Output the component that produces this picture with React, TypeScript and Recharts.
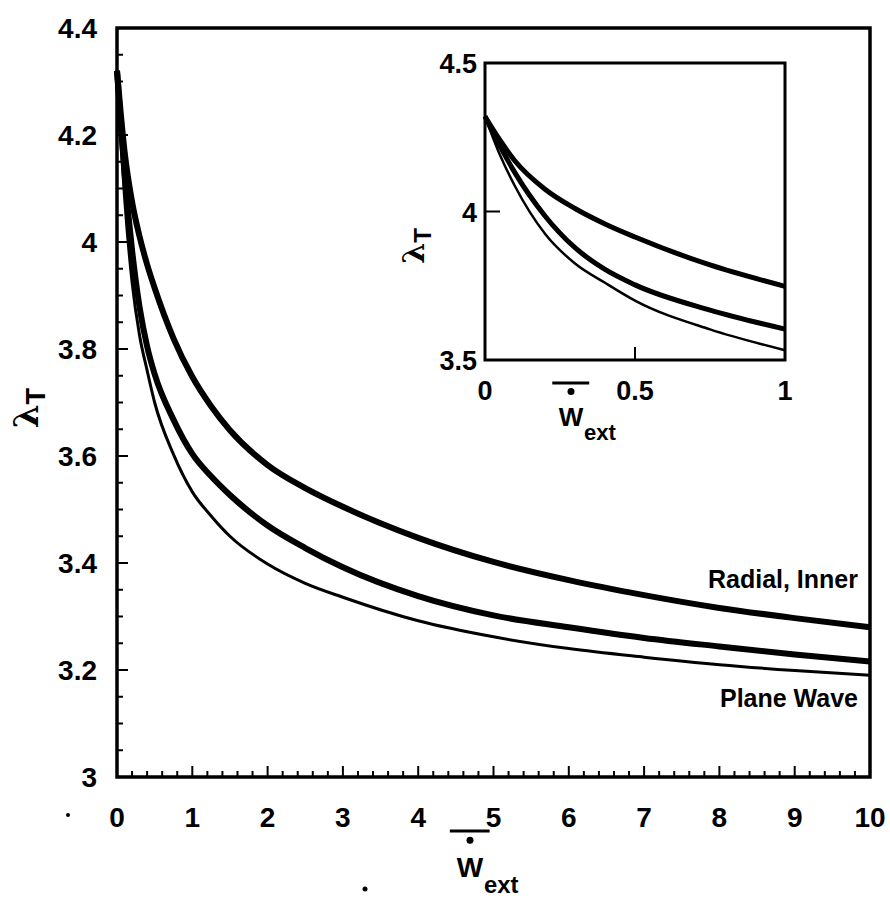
import { LineChart, Line, XAxis, YAxis, ReferenceArea } from 'recharts';

// lambda_T vs W_ext
const W_EXT = [0, 0.05, 0.1, 0.2, 0.3, 0.4, 0.5, 0.75, 1, 1.25, 1.5, 2, 2.5, 3, 4, 5, 6, 7, 8, 9, 10];
const RADIAL_INNER = [4.32, 4.24, 4.17, 4.075, 4.01, 3.958, 3.914, 3.82, 3.748, 3.693, 3.648, 3.583, 3.54, 3.505, 3.447, 3.402, 3.368, 3.34, 3.316, 3.297, 3.28];
const MIDDLE = [4.32, 4.22, 4.13, 3.985, 3.878, 3.805, 3.753, 3.668, 3.604, 3.562, 3.527, 3.47, 3.428, 3.392, 3.338, 3.302, 3.28, 3.26, 3.244, 3.229, 3.216];
const PLANE_WAVE = [4.32, 4.19, 4.085, 3.925, 3.825, 3.76, 3.7, 3.603, 3.533, 3.488, 3.45, 3.398, 3.362, 3.336, 3.292, 3.262, 3.24, 3.224, 3.21, 3.199, 3.19];

const MAIN_X_LABELS = [0, 1, 2, 3, 4, 5, 6, 7, 8, 9, 10];
const MAIN_Y_LABELS = [3, 3.2, 3.4, 3.6, 3.8, 4, 4.2, 4.4];
const INSET_X_LABELS = [0, 0.5, 1];
const INSET_Y_LABELS = [3.5, 4, 4.5];

const data = W_EXT.map((w, i) => ({
  w,
  radial: RADIAL_INNER[i],
  middle: MIDDLE[i],
  plane: PLANE_WAVE[i],
}));
const insetData = data.filter((d) => d.w <= 1);

// minor tick positions (0.2 on x, 0.05 on y)
const xMinor = Array.from({ length: 51 }, (_, i) => Math.round(i * 20) / 100);
const yMinor = Array.from({ length: 29 }, (_, i) => Math.round((3 + i * 0.05) * 100) / 100);

const FONT = '"Liberation Sans", Arial, sans-serif';
const isIn = (v: number, list: number[]) => list.some((t) => Math.abs(t - v) < 1e-6);

const MainXTick = ({ x, y, payload }: any) => {
  const major = isIn(payload.value, MAIN_X_LABELS);
  return (
    <g>
      <line x1={x} x2={x} y1={y} y2={y - (major ? 11 : 6)} stroke="#000" strokeWidth={2} />
      {major && (
        <text x={x} y={y + 50} textAnchor="middle" fontFamily={FONT} fontWeight={700} fontSize={28} fill="#000">
          {payload.value}
        </text>
      )}
    </g>
  );
};

const MainYTick = ({ x, y, payload }: any) => {
  const major = isIn(payload.value, MAIN_Y_LABELS);
  return (
    <g>
      <line x1={x} x2={x + (major ? 11 : 6)} y1={y} y2={y} stroke="#000" strokeWidth={2} />
      {major && (
        <text x={x - 20} y={y + 10} textAnchor="end" fontFamily={FONT} fontWeight={700} fontSize={28} fill="#000">
          {Math.round(payload.value * 10) / 10}
        </text>
      )}
    </g>
  );
};

const InsetXTick = ({ x, y, payload }: any) => {
  const inner = payload.value > 0 && payload.value < 1;
  return (
    <g>
      {inner && <line x1={x} x2={x} y1={y} y2={y - 13} stroke="#000" strokeWidth={2} />}
      <text x={x} y={y + 40} textAnchor="middle" fontFamily={FONT} fontWeight={700} fontSize={27} fill="#000">
        {payload.value}
      </text>
    </g>
  );
};

const InsetYTick = ({ x, y, payload }: any) => {
  const inner = payload.value > 3.5 && payload.value < 4.5;
  return (
    <g>
      {inner && <line x1={x} x2={x + 15} y1={y} y2={y} stroke="#000" strokeWidth={2} />}
      <text x={x - 8} y={y + 10} textAnchor="end" fontFamily={FONT} fontWeight={700} fontSize={27} fill="#000">
        {payload.value}
      </text>
    </g>
  );
};

const WextLabel = ({ x, y, size }: { x: number; y: number; size: number }) => (
  <g fontFamily={FONT} fontWeight={700} fill="#000">
    <line x1={x - size * 0.72} x2={x + size * 0.7} y1={y} y2={y} stroke="#000" strokeWidth={3} />
    <circle cx={x} cy={y + size * 0.33} r={3.5} />
    <text x={x} y={y + size * 1.65} textAnchor="middle" fontSize={size}>W</text>
    <text x={x + size * 0.5} y={y + size * 2.2} fontSize={size * 0.85}>ext</text>
  </g>
);

const LambdaLabel = ({ x, y, size }: { x: number; y: number; size: number }) => (
  <text
    transform={`translate(${x},${y}) rotate(-90)`}
    textAnchor="middle"
    fontFamily='"DejaVu Serif", serif'
    fontWeight={700}
    fontSize={size}
    fill="#000"
  >
    λ
    <tspan fontFamily={FONT} fontSize={size * 0.8} dy={size * 0.22}>T</tspan>
  </text>
);

export default function App() {
  return (
    <div style={{ position: 'absolute', left: 0, top: 0, width: 890, height: 898, background: '#fff' }}>
      <div style={{ position: 'absolute', left: 0, top: 0 }}>
        <LineChart width={890} height={898} data={data} margin={{ top: 28, right: 20, bottom: 61, left: 17 }}>
          <XAxis
            dataKey="w"
            type="number"
            domain={[0, 10]}
            ticks={xMinor}
            interval={0}
            axisLine={false}
            tickLine={false}
            tickSize={0}
            tickMargin={0}
            height={60}
            tick={<MainXTick />}
          />
          <YAxis
            type="number"
            domain={[3, 4.4]}
            ticks={yMinor}
            interval={0}
            axisLine={false}
            tickLine={false}
            tickSize={0}
            tickMargin={0}
            width={100}
            tick={<MainYTick />}
          />
          <ReferenceArea x1={0} x2={10} y1={3} y2={4.4} fill="none" stroke="#000" strokeWidth={3.5} ifOverflow="visible" />
          <Line dataKey="radial" type="monotone" stroke="#000" strokeWidth={6} dot={false} isAnimationActive={false} />
          <Line dataKey="middle" type="monotone" stroke="#000" strokeWidth={6} dot={false} isAnimationActive={false} />
          <Line dataKey="plane" type="monotone" stroke="#000" strokeWidth={3} dot={false} isAnimationActive={false} />
        </LineChart>
      </div>

      <div style={{ position: 'absolute', left: 400, top: 40 }}>
        <LineChart width={400} height={380} data={insetData} margin={{ top: 23, right: 15, bottom: 15, left: 25 }}>
          <XAxis
            dataKey="w"
            type="number"
            domain={[0, 1]}
            ticks={INSET_X_LABELS}
            interval={0}
            axisLine={false}
            tickLine={false}
            tickSize={0}
            tickMargin={0}
            height={45}
            tick={<InsetXTick />}
          />
          <YAxis
            type="number"
            domain={[3.5, 4.5]}
            ticks={INSET_Y_LABELS}
            interval={0}
            axisLine={false}
            tickLine={false}
            tickSize={0}
            tickMargin={0}
            width={60}
            tick={<InsetYTick />}
          />
          <ReferenceArea x1={0} x2={1} y1={3.5} y2={4.5} fill="none" stroke="#000" strokeWidth={3} ifOverflow="visible" />
          <Line dataKey="radial" type="monotone" stroke="#000" strokeWidth={5} dot={false} isAnimationActive={false} />
          <Line dataKey="middle" type="monotone" stroke="#000" strokeWidth={5} dot={false} isAnimationActive={false} />
          <Line dataKey="plane" type="monotone" stroke="#000" strokeWidth={2.5} dot={false} isAnimationActive={false} />
        </LineChart>
      </div>

      <svg width={890} height={898} style={{ position: 'absolute', left: 0, top: 0, pointerEvents: 'none' }}>
        <LambdaLabel x={38} y={408} size={34} />
        <LambdaLabel x={424} y={246} size={30} />
        <WextLabel x={470} y={831} size={28} />
        <WextLabel x={571} y={383} size={26} />
        <text x={858} y={588} textAnchor="end" fontFamily={FONT} fontWeight={700} fontSize={25} fill="#000">
          Radial, Inner
        </text>
        <text x={858} y={707} textAnchor="end" fontFamily={FONT} fontWeight={700} fontSize={25} fill="#000">
          Plane Wave
        </text>
        <circle cx={68} cy={815} r={2} fill="#000" />
        <circle cx={365} cy={889} r={2.5} fill="#000" />
      </svg>
    </div>
  );
}
